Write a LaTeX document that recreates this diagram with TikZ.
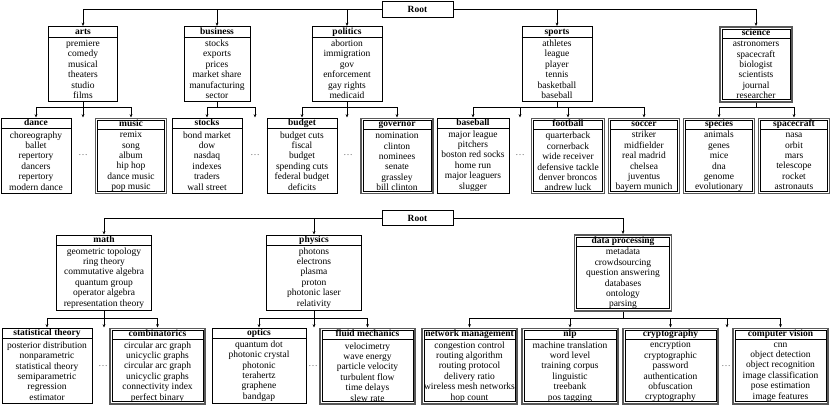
\documentclass[tikz,border=0pt]{standalone}
\usepackage{fontspec}
\setmainfont{Liberation Serif}
\usetikzlibrary{arrows.meta,calc}
\tikzset{
  line/.style={draw=black, line width=0.6pt},
  arr/.style={line, -{Stealth[length=3.4pt,width=2.8pt]}},
  sbox/.style={draw=black, line width=0.6pt, fill=white, inner sep=0pt, anchor=north},
  dout/.style={draw=black!65, line width=1.5pt, fill=white, inner sep=0pt, anchor=north},
  din/.style={draw=black, line width=0.5pt, inner sep=0pt},
  hdr/.style={font=\bfseries\fontsize{9.5}{10.4}\selectfont, inner sep=0pt, anchor=base},
  itm/.style={font=\fontsize{9.5}{10.4}\selectfont, align=center, inner sep=0pt},
  dotsn/.style={font=\fontsize{9.5}{10.4}\selectfont, text=black!60, inner sep=0pt},
  rootbox/.style={draw=black, line width=0.6pt, fill=white, minimum width=71pt, minimum height=15.5pt, inner sep=0pt, font=\bfseries\fontsize{9.5}{10.4}\selectfont}
}
% single-border box: name, cx, ytop, width, height, header, items
\newcommand{\SBox}[7]{%
  \node[sbox, minimum width=#4pt, minimum height=#5pt] (#1) at (#2,#3) {};
  \draw[line] ([yshift=-11pt]#1.north west) -- ([yshift=-11pt]#1.north east);
  \node[hdr] (#1h) at ([yshift=-8.4pt]#1.north) {#6};
  \node[itm] (#1i) at ($([yshift=-11pt]#1.north)!0.5!(#1.south)$) {#7};
}
% double-border box
\newcommand{\DBox}[7]{%
  \node[dout, minimum width=#4pt, minimum height=#5pt] (#1) at (#2,#3) {};
  \node[din, minimum width=#4pt-4.4pt, minimum height=#5pt-4.4pt] (#1x) at (#1.center) {};
  \draw[line, line width=0.5pt] ([yshift=-9.4pt]#1x.north west) -- ([yshift=-9.4pt]#1x.north east);
  \node[hdr] (#1h) at ([yshift=-9.0pt]#1.north) {#6};
  \node[itm] (#1i) at ($([yshift=-11.6pt]#1.north)!0.5!(#1.south)$) {#7};
}
\begin{document}
\begin{tikzpicture}[x=1pt,y=-1pt]
\useasboundingbox (0,0) rectangle (830,407);
\coordinate (busA) at (0,107);
\coordinate (busB) at (0,318);

% ================= top tree =================
\node[rootbox] (root1) at (417.5,9.5) {Root};

\SBox{arts}{83}{26}{69}{75}{arts}{premiere\\comedy\\musical\\theaters\\studio\\films}
\SBox{business}{217}{26}{66}{75}{business}{stocks\\exports\\prices\\market share\\manufacturing\\sector}
\SBox{politics}{347}{26}{70}{75}{politics}{abortion\\immigration\\gov\\enforcement\\gay rights\\medicaid}
\SBox{sports}{557}{26}{70}{75}{sports}{athletes\\league\\player\\tennis\\basketball\\baseball}
\DBox{science}{756}{26}{72}{75}{science}{astronomers\\spacecraft\\biologist\\scientists\\journal\\researcher}

\SBox{dance}{36}{117.5}{70}{75}{dance}{choreography\\ballet\\repertory\\dancers\\repertory\\modern dance}
\DBox{music}{131}{117.5}{71}{75}{music}{remix\\song\\album\\hip hop\\dance music\\pop music}
\SBox{stocks}{207}{117.5}{70}{75}{stocks}{bond market\\dow\\nasdaq\\indexes\\traders\\wall street}
\SBox{budget}{302}{117.5}{70}{75}{budget}{budget cuts\\fiscal\\budget\\spending cuts\\federal budget\\deficits}
\DBox{governor}{397}{117.5}{72}{75}{governor}{nomination\\clinton\\nominees\\senate\\grassley\\bill clinton}
\SBox{baseball}{473}{117.5}{72}{75}{baseball}{major league\\pitchers\\boston red socks\\home run\\major leaguers\\slugger}
\DBox{football}{568}{117.5}{73}{75}{football}{quarterback\\cornerback\\wide receiver\\defensive tackle\\denver broncos\\andrew luck}
\DBox{soccer}{644}{117.5}{71}{75}{soccer}{striker\\midfielder\\real madrid\\chelsea\\juventus\\bayern munich}
\DBox{species}{719}{117.5}{71}{75}{species}{animals\\genes\\mice\\dna\\genome\\evolutionary}
\DBox{spacecraft}{794}{117.5}{71}{75}{spacecraft}{nasa\\orbit\\mars\\telescope\\rocket\\astronauts}

\node[dotsn] (e1) at (83,155) {\ldots};
\node[dotsn] (e2) at (255,155) {\ldots};
\node[dotsn] (e3) at (348,155) {\ldots};
\node[dotsn] (e4) at (520,155) {\ldots};
\coordinate (e1t) at (83,117.5);
\coordinate (e2t) at (255,117.5);
\coordinate (e3t) at (347,117.5);
\coordinate (e4t) at (520,117.5);

% root -> categories
\draw[arr] (root1.west) -| (arts.north);
\draw[arr] (root1.east) -| (science.north);
\draw[arr] (business.north |- root1.west) -- (business.north);
\draw[arr] (politics.north |- root1.west) -- (politics.north);
\draw[arr] (sports.north |- root1.east) -- (sports.north);

% arts
\draw[arr] (arts.south) -- (e1t);
\draw[line] (dance.north |- busA) -- (music.north |- busA);
\draw[arr] (dance.north |- busA) -- (dance.north);
\draw[arr] (music.north |- busA) -- (music.north);
% business
\draw[line] (business.south) -- (business.south |- busA);
\draw[line] (stocks.north |- busA) -- (e2t |- busA);
\draw[arr] (stocks.north |- busA) -- (stocks.north);
\draw[arr] (e2t |- busA) -- (e2t);
% politics
\draw[arr] (politics.south) -- (e3t);
\draw[line] (budget.north |- busA) -- (governor.north |- busA);
\draw[arr] (budget.north |- busA) -- (budget.north);
\draw[arr] (governor.north |- busA) -- (governor.north);
% sports
\draw[line] (sports.south) -- (sports.south |- busA);
\draw[line] (baseball.north |- busA) -- (soccer.north |- busA);
\draw[arr] (baseball.north |- busA) -- (baseball.north);
\draw[arr] (e4t |- busA) -- (e4t);
\draw[arr] (football.north |- busA) -- (football.north);
\draw[arr] (soccer.north |- busA) -- (soccer.north);
% science
\draw[line] (science.south) -- (science.south |- busA);
\draw[line] (species.north |- busA) -- (spacecraft.north |- busA);
\draw[arr] (species.north |- busA) -- (species.north);
\draw[arr] (spacecraft.north |- busA) -- (spacecraft.north);

% ================= bottom tree =================
\node[rootbox] (root2) at (417.5,218) {Root};

\SBox{math}{104}{234.5}{95}{75}{math}{geometric topology\\ring theory\\commutative algebra\\quantum group\\operator algebra\\representation theory}
\SBox{physics}{314}{234.5}{95}{75}{physics}{photons\\electrons\\plasma\\proton\\photonic laser\\relativity}
\DBox{dataproc}{623}{234}{97}{76}{data processing}{metadata\\crowdsourcing\\question answering\\databases\\ontology\\parsing}

\SBox{stat}{47}{327.5}{90}{75.5}{statistical theory}{posterior distribution\\nonparametric\\statistical theory\\semiparametric\\regression\\estimator}
\DBox{comb}{157.5}{327.5}{95}{75.5}{combinatorics}{circular arc graph\\unicyclic graphs\\circular arc graph\\unicyclic graphs\\connectivity index\\perfect binary}
\SBox{optics}{259}{327.5}{94}{75.5}{optics}{quantum dot\\photonic crystal\\photonic\\terahertz\\graphene\\bandgap}
\DBox{fluid}{367.5}{327.5}{95}{75.5}{fluid mechanics}{velocimetry\\wave energy\\particle velocity\\turbulent flow\\time delays\\slew rate}
\DBox{netman}{469.5}{327.5}{95}{75.5}{network management}{congestion control\\routing algorithm\\routing protocol\\delivery ratio\\wireless mesh networks\\hop count}
\DBox{nlp}{570}{327.5}{96}{75.5}{nlp}{machine translation\\word level\\training corpus\\linguistic\\treebank\\pos tagging}
\DBox{crypto}{670.5}{327.5}{95}{75.5}{cryptography}{encryption\\cryptographic\\password\\authentication\\obfuscation\\cryptography}
\DBox{cv}{780.5}{327.5}{95}{75.5}{computer vision}{cnn\\object detection\\object recognition\\image classification\\pose estimation\\image features}

\node[dotsn] (e5) at (103,366) {\ldots};
\node[dotsn] (e6) at (313,366) {\ldots};
\node[dotsn] (e7) at (726,366) {\ldots};
\coordinate (e5t) at (104,327.5);
\coordinate (e6t) at (314,327.5);
\coordinate (e7t) at (727,327.5);

\draw[arr] (root2.west) -| (math.north);
\draw[arr] (root2.east) -| (dataproc.north);
\draw[arr] (physics.north |- root2.west) -- (physics.north);

% math
\draw[arr] (math.south) -- (e5t);
\draw[line] (stat.north |- busB) -- (comb.north |- busB);
\draw[arr] (stat.north |- busB) -- (stat.north);
\draw[arr] (comb.north |- busB) -- (comb.north);
% physics
\draw[arr] (physics.south) -- (e6t);
\draw[line] (optics.north |- busB) -- (fluid.north |- busB);
\draw[arr] (optics.north |- busB) -- (optics.north);
\draw[arr] (fluid.north |- busB) -- (fluid.north);
% data processing
\draw[line] (dataproc.south) -- (dataproc.south |- busB);
\draw[line] (netman.north |- busB) -- (cv.north |- busB);
\draw[arr] (netman.north |- busB) -- (netman.north);
\draw[arr] (nlp.north |- busB) -- (nlp.north);
\draw[arr] (crypto.north |- busB) -- (crypto.north);
\draw[arr] (e7t |- busB) -- (e7t);
\draw[arr] (cv.north |- busB) -- (cv.north);
\end{tikzpicture}
\end{document}
